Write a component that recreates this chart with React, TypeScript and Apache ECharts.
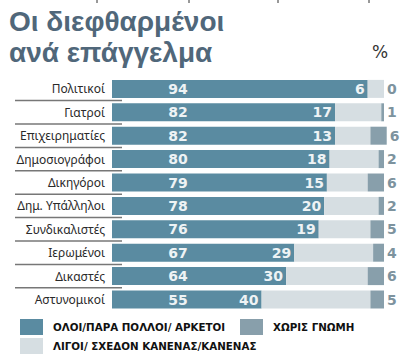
import React, { useEffect, useRef } from "react";
import * as echarts from "echarts";

const categories = [
  "Πολιτικοί",
  "Γιατροί",
  "Επιχειρηματίες",
  "Δημοσιογράφοι",
  "Δικηγόροι",
  "Δημ. Υπάλληλοι",
  "Συνδικαλιστές",
  "Ιερωμένοι",
  "Δικαστές",
  "Αστυνομικοί",
];
const many = [94, 82, 82, 80, 79, 78, 76, 67, 64, 55];
const few = [6, 17, 13, 18, 15, 20, 19, 29, 30, 40];
const noAnswer = [0, 1, 6, 2, 6, 2, 5, 4, 6, 5];
const seriesNames = [
  "ΟΛΟΙ/ΠΑΡΑ ΠΟΛΛΟΙ/ ΑΡΚΕΤΟΙ",
  "ΛΙΓΟΙ/ ΣΧΕΔΟΝ ΚΑΝΕΝΑΣ/ΚΑΝΕΝΑΣ",
  "ΧΩΡΙΣ ΓΝΩΜΗ",
];
const titleLines = ["Οι διεφθαρμένοι", "ανά επάγγελμα"];

const DARK = "#5a8ba1";
const LIGHT = "#d6dee2";
const GREY = "#889fab";

export default function App() {
  const ref = useRef<HTMLDivElement>(null);
  useEffect(() => {
    if (!ref.current) return;
    const chart = echarts.init(ref.current, undefined, { renderer: "svg" });
    const barFont = {
      fontFamily: "DejaVu Sans",
      fontWeight: "bold" as const,
      fontSize: 14,
    };
    const legendText = {
      fontFamily: "DejaVu Sans",
      fontWeight: "bold" as const,
      fontSize: 10.3,
      color: "#111",
      padding: [0, 0, 0, 5],
    };
    const option: any = {
      animation: false,
      backgroundColor: "#fff",
      grid: { left: 112, right: 22, top: 77.2, height: 234 },
      xAxis: { type: "value", min: 0, max: 100, show: false },
      yAxis: {
        type: "category",
        data: categories,
        inverse: true,
        axisLine: { show: false },
        axisTick: { show: false },
        axisLabel: {
          margin: 7,
          fontFamily: "Noto Sans",
          fontSize: 12,
          color: "#2a2a2a",
        },
      },
      legend: [
        {
          left: 20, top: 319, padding: 0, icon: "rect",
          itemWidth: 23, itemHeight: 16, selectedMode: false,
          data: [seriesNames[0]], textStyle: legendText,
        },
        {
          left: 240, top: 319, padding: 0, icon: "rect",
          itemWidth: 23, itemHeight: 16, selectedMode: false,
          data: [seriesNames[2]], textStyle: legendText,
        },
        {
          left: 20, top: 338, padding: 0, icon: "rect",
          itemWidth: 23, itemHeight: 16, selectedMode: false,
          data: [seriesNames[1]], textStyle: legendText,
        },
      ],
      series: [
        {
          name: seriesNames[0], type: "bar", stack: "all", data: many,
          barWidth: 18, clip: false,
          itemStyle: { color: DARK },
          label: {
            show: true, position: [66, "50%"], align: "center",
            verticalAlign: "middle", color: "#eef3f5", ...barFont,
          },
        },
        {
          name: seriesNames[1], type: "bar", stack: "all", data: few,
          barWidth: 18, clip: false,
          itemStyle: { color: LIGHT },
          label: {
            show: true, position: [-3, "50%"], align: "right",
            verticalAlign: "middle", color: "#eef3f5", ...barFont,
          },
        },
        {
          name: seriesNames[2], type: "bar", stack: "all", data: noAnswer,
          barWidth: 18, clip: false,
          itemStyle: { color: GREY },
          label: {
            show: true, position: "right", distance: 3,
            color: "#7d939e", ...barFont,
          },
        },
      ],
      graphic: [
        {
          type: "text", left: 9, top: 7,
          style: {
            text: titleLines[0], fontFamily: "Liberation Sans", fontWeight: "bold",
            fontSize: 28, fill: "#50677a",
          },
        },
        {
          type: "text", left: 9, top: 38,
          style: {
            text: titleLines[1], fontFamily: "Liberation Sans", fontWeight: "bold",
            fontSize: 28, fill: "#50677a",
          },
        },
        {
          type: "text", left: 372, top: 43,
          style: {
            text: "%", fontFamily: "DejaVu Sans", fontSize: 17, fill: "#333",
          },
        },
        ...[97, 189, 278, 369].map((x) => ({
          type: "line",
          shape: { x1: x, y1: 0, x2: x, y2: 3 },
          style: { stroke: "#333", lineWidth: 1 },
        })),
      ],
    };
    chart.setOption(option);
    // separators between category rows, positioned from the axis scale
    const seps: any[] = [];
    for (let i = 0; i < categories.length - 1; i++) {
      const a = chart.convertToPixel({ yAxisIndex: 0 }, i) as number;
      const b = chart.convertToPixel({ yAxisIndex: 0 }, i + 1) as number;
      const y = (a + b) / 2;
      seps.push({
        type: "line",
        shape: { x1: 15, y1: y, x2: 122, y2: y },
        style: { stroke: "#777", lineWidth: 1.5 },
      });
    }
    chart.setOption({ graphic: [...option.graphic, ...seps] });
    return () => chart.dispose();
  }, []);
  return (
    <div
      ref={ref}
      style={{ position: "fixed", left: 0, top: 0, width: 406, height: 362 }}
    />
  );
}
